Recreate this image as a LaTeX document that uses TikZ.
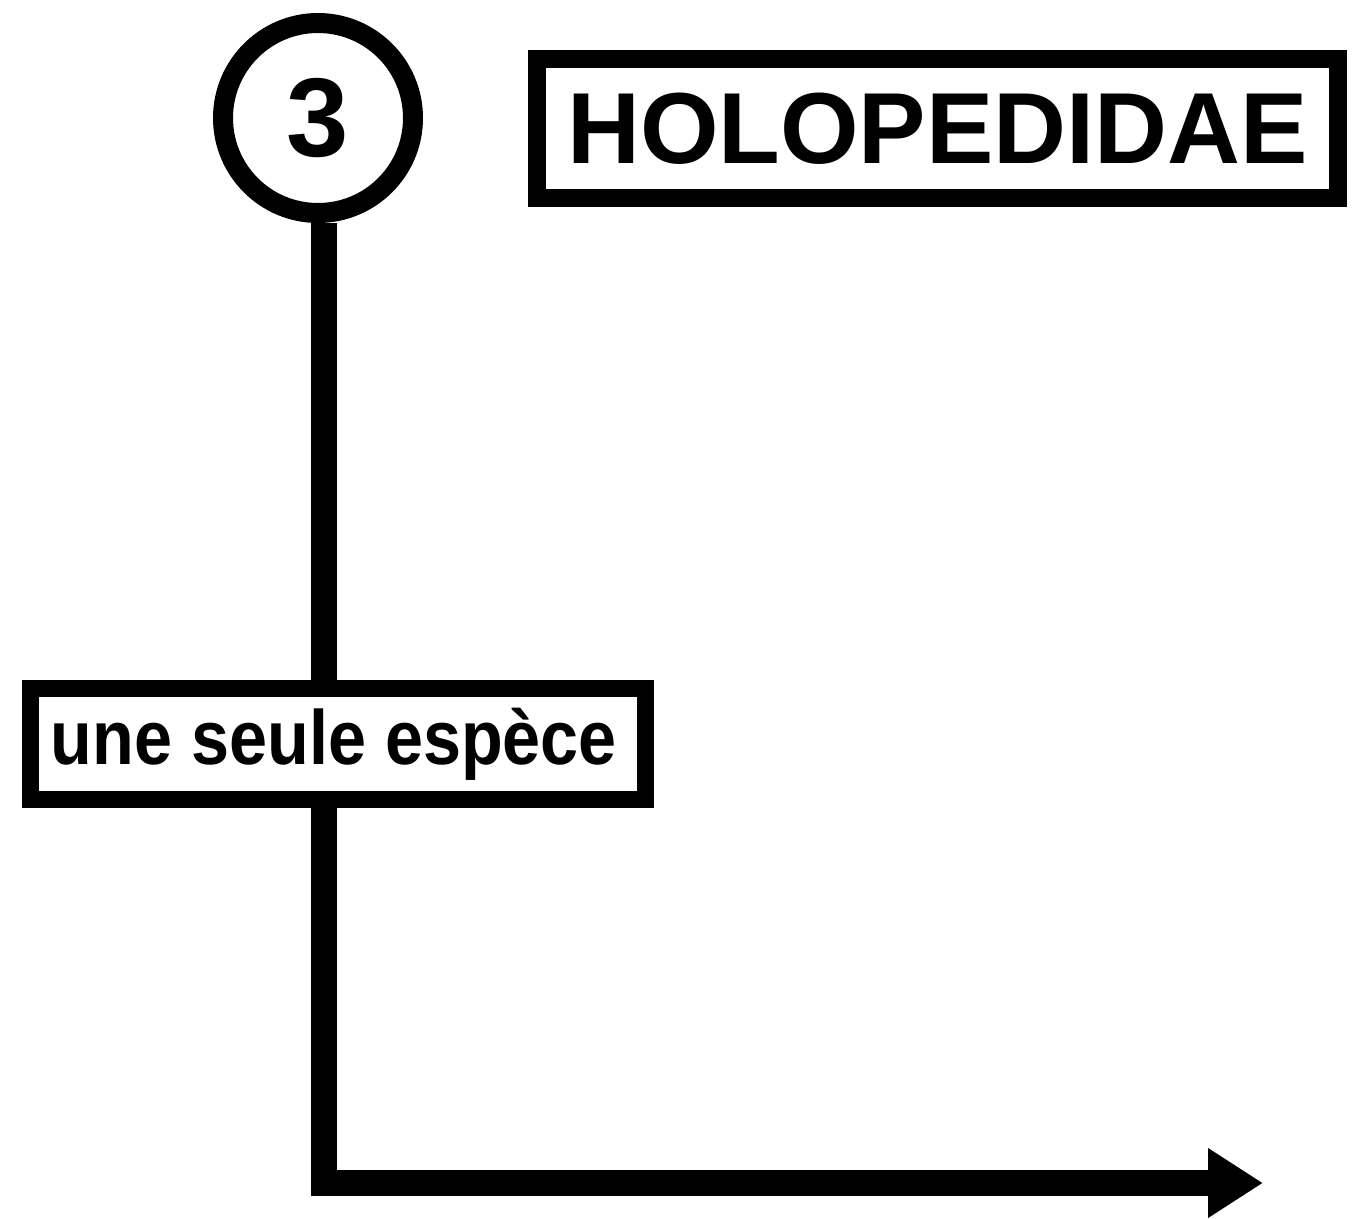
\documentclass[tikz,border=0pt]{standalone}
\usepackage{fontspec}
\setmainfont{Liberation Sans}
\usetikzlibrary{arrows.meta}
\begin{document}
\begin{tikzpicture}[x=1pt,y=-1pt,
  ring/.style={draw=black,circle,line width=20pt,minimum size=190pt,inner sep=0pt},
  titlebox/.style={draw=black,line width=18pt,minimum width=801pt,minimum height=139pt,inner sep=0pt},
  labelbox/.style={draw=black,line width=17pt,minimum width=615pt,minimum height=111pt,inner sep=0pt},
  stem/.style={line width=26pt,black}]
\useasboundingbox (0,0) rectangle (1353,1219);
\node[ring] (c) at (318,118) {\fontsize{112}{112}\selectfont\bfseries 3};
\node[titlebox] (t) at (937.5,128.5) {\fontsize{101}{101}\selectfont\bfseries HOLOPEDIDAE};
\node[labelbox] (b) at (338,744) {\hspace*{-8pt}\raisebox{-3pt}{\scalebox{1.005}[1.13]{\fontsize{68}{68}\selectfont\bfseries une seule espèce}}};
\coordinate (sx) at (324,0);
\coordinate (tip) at (1263,1183);
\draw[stem] (c.south -| sx) -- (b.north -| sx);
\draw[stem,line join=miter,-{Triangle[length=55pt,width=66pt]}] (b.south -| sx) |- (tip);
\end{tikzpicture}
\end{document}
